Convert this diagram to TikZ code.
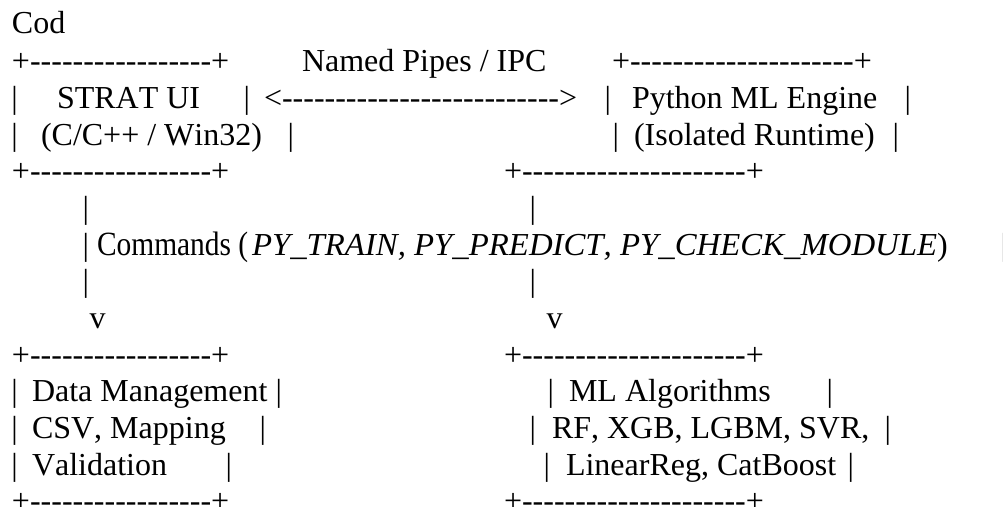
\documentclass[tikz,border=0pt]{standalone}
\usepackage{fontspec}
\newfontfamily\asc{Liberation Serif}[Kerning=Off]
\begin{document}
\begin{tikzpicture}[x=1pt,y=-1pt,
  t/.style={anchor=base west, inner sep=0pt, outer sep=0pt, text=black,
            font=\asc\fontsize{32}{36}\selectfont}]
\useasboundingbox (0,0) rectangle (1003,506);
% line 1
\node[t] (cod) at (12,33) {Cod};
% line 2
\node[t] (uiTop) at (12,71.7) {+-----------------+};
\node[t] (pipes) at (302,71.7) {Named Pipes / IPC};
\node[t] (pyTop) at (612,71.7) {+---------------------+};
% line 3
\node[t] (ui3a) at (11.5,108.4) {|};
\node[t] (uiName) at (57,108.4) {STRAT UI};
\node[t] (ui3b) at (243.5,108.4) {|};
\node[t] (ipc) at (264,108.4) {<-------------------------->};
\node[t] (py3a) at (604.5,108.4) {|};
\node[t] (pyName) at (632,108.4) {Python ML Engine};
\node[t] (py3b) at (904.5,108.4) {|};
% line 4
\node[t] (ui4a) at (11.5,145) {|};
\node[t] (uiSub) at (41,145) {(C/C++ / Win32)};
\node[t] (ui4b) at (287.5,145) {|};
\node[t] (py4a) at (612.5,145) {|};
\node[t] (pySub) at (634,145) {(Isolated Runtime)};
\node[t] (py4b) at (892.5,145) {|};
% line 5
\node[t] (uiBot) at (12,181.7) {+-----------------+};
\node[t] (pyBot) at (504,181.7) {+---------------------+};
% line 6
\node[t] (l6a) at (82.5,218.4) {|};
\node[t] (l6b) at (529.5,218.4) {|};
% line 7
\node[t] (l7a) at (82.5,255) {|};
\node[t] (cmd) at (97,255) {\scalebox{0.92}[1.06]{Commands (}};
\node[t] (cmdIt) at (252,255) {\scalebox{1.025}[1]{\itshape PY\_TRAIN, PY\_PREDICT, PY\_CHECK\_MODULE}};
\node[t] (cmdEnd) at (cmdIt.base east) {)};
\node[t] (l7c) at (1000.5,255) {|};
% line 8
\node[t] (l8a) at (82.5,291.7) {|};
\node[t] (l8b) at (529.5,291.7) {|};
% line 9
\node[t] (va) at (89.5,328.4) {v};
\node[t] (vb) at (546.5,328.4) {v};
% line 10
\node[t] (dmTop) at (12,365) {+-----------------+};
\node[t] (mlTop) at (504,365) {+---------------------+};
% line 11
\node[t] (dm11a) at (11.5,401.7) {|};
\node[t] (dmName) at (32,401.7) {Data Management};
\node[t] (dm11b) at (275.5,401.7) {|};
\node[t] (ml11a) at (547.5,401.7) {|};
\node[t] (mlName) at (569,401.7) {ML Algorithms};
\node[t] (ml11b) at (826.5,401.7) {|};
% line 12
\node[t] (dm12a) at (11.5,438.4) {|};
\node[t] (dmCsv) at (32,438.4) {CSV, Mapping};
\node[t] (dm12b) at (259.5,438.4) {|};
\node[t] (ml12a) at (529.5,438.4) {|};
\node[t] (mlList) at (552,438.4) {RF, XGB, LGBM, SVR,};
\node[t] (ml12b) at (884.5,438.4) {|};
% line 13
\node[t] (dm13a) at (11.5,475) {|};
\node[t] (dmVal) at (32,475) {Validation};
\node[t] (dm13b) at (225.5,475) {|};
\node[t] (ml13a) at (543.5,475) {|};
\node[t] (mlList2) at (566,475) {LinearReg, CatBoost};
\node[t] (ml13b) at (847.5,475) {|};
% line 14
\node[t] (dmBot) at (12,511.7) {+-----------------+};
\node[t] (mlBot) at (504,511.7) {+---------------------+};
\end{tikzpicture}
\end{document}
